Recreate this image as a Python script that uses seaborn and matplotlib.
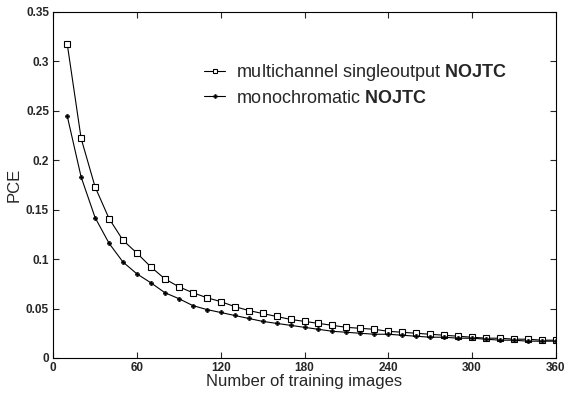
import numpy as np
import pandas as pd
import matplotlib
matplotlib.use("Agg")
import matplotlib.pyplot as plt
import seaborn as sns

n_images = [10, 20, 30, 40, 50, 60, 70, 80, 90, 100, 110, 120, 130, 140, 150, 160, 170, 180,
            190, 200, 210, 220, 230, 240, 250, 260, 270, 280, 290, 300, 310, 320, 330, 340, 350, 360]
pce_multichannel = [0.318, 0.222, 0.173, 0.141, 0.119, 0.106, 0.092, 0.080, 0.072, 0.066, 0.061, 0.057,
                    0.052, 0.048, 0.045, 0.042, 0.039, 0.037, 0.035, 0.033, 0.031, 0.030, 0.029, 0.027,
                    0.026, 0.025, 0.024, 0.023, 0.022, 0.021, 0.020, 0.020, 0.019, 0.019, 0.018, 0.018]
pce_mono = [0.245, 0.183, 0.142, 0.116, 0.097, 0.085, 0.076, 0.066, 0.060, 0.053, 0.049, 0.046,
            0.043, 0.040, 0.037, 0.035, 0.033, 0.031, 0.029, 0.027, 0.026, 0.025, 0.024, 0.024,
            0.023, 0.022, 0.021, 0.021, 0.020, 0.020, 0.019, 0.018, 0.018, 0.017, 0.017, 0.017]
series_names = ["multichannel singleoutput $\\bf{NOJTC}$", "monochromatic $\\bf{NOJTC}$"]
x_ticks = [0, 60, 120, 180, 240, 300, 360]
y_ticks = [0, 0.05, 0.1, 0.15, 0.2, 0.25, 0.3, 0.35]
y_ticklabels = ["0", "0.05", "0.1", "0.15", "0.2", "0.25", "0.3", "0.35"]

df_multi = pd.DataFrame({"x": n_images, "PCE": pce_multichannel})
df_mono = pd.DataFrame({"x": n_images, "PCE": pce_mono})

sns.set_style("ticks")
plt.rcParams["font.family"] = ["Liberation Sans", "DejaVu Sans"]
plt.rcParams["mathtext.fontset"] = "custom"
plt.rcParams["mathtext.bf"] = "Liberation Sans:bold"
plt.rcParams["mathtext.rm"] = "Liberation Sans"

fig = plt.figure(figsize=(5.66, 3.96), dpi=100)
ax = fig.add_axes([0.094, 0.096, 0.888, 0.874])

sns.lineplot(data=df_multi, x="x", y="PCE", color="black", linewidth=0.8,
             marker="s", markersize=4.5, markerfacecolor="white", markeredgecolor="black",
             markeredgewidth=0.8, label=series_names[0], ax=ax)
sns.lineplot(data=df_mono, x="x", y="PCE", color="black", linewidth=0.8,
             marker="P", markersize=3.3, markerfacecolor="black", markeredgecolor="black",
             markeredgewidth=0.3, label=series_names[1], ax=ax)

ax.set_xlim(0, 360)
ax.set_ylim(0, 0.35)
ax.set_xticks(x_ticks)
ax.set_xticklabels([str(t) for t in x_ticks], fontweight="bold", fontsize=8.5)
ax.set_yticks(y_ticks)
ax.set_yticklabels(y_ticklabels, fontweight="bold", fontsize=8.5)
ax.tick_params(direction="in", top=True, right=True, length=4, width=0.8, pad=3)
for s in ax.spines.values():
    s.set_visible(True)
    s.set_linewidth(0.8)
    s.set_color("black")
ax.set_xlabel("Number of training images", fontsize=12, labelpad=0)
ax.set_ylabel("PCE", fontsize=12, labelpad=3)

leg = ax.legend(loc="upper left", bbox_to_anchor=(0.285, 0.875),
                frameon=False, fontsize=13, handlelength=1.2, handletextpad=0.6,
                labelspacing=0.35, borderaxespad=0)
for h in leg.legend_handles:
    h.set_markersize(3)
    h.set_linewidth(0.8)

fig.savefig("out.png", dpi=100)
